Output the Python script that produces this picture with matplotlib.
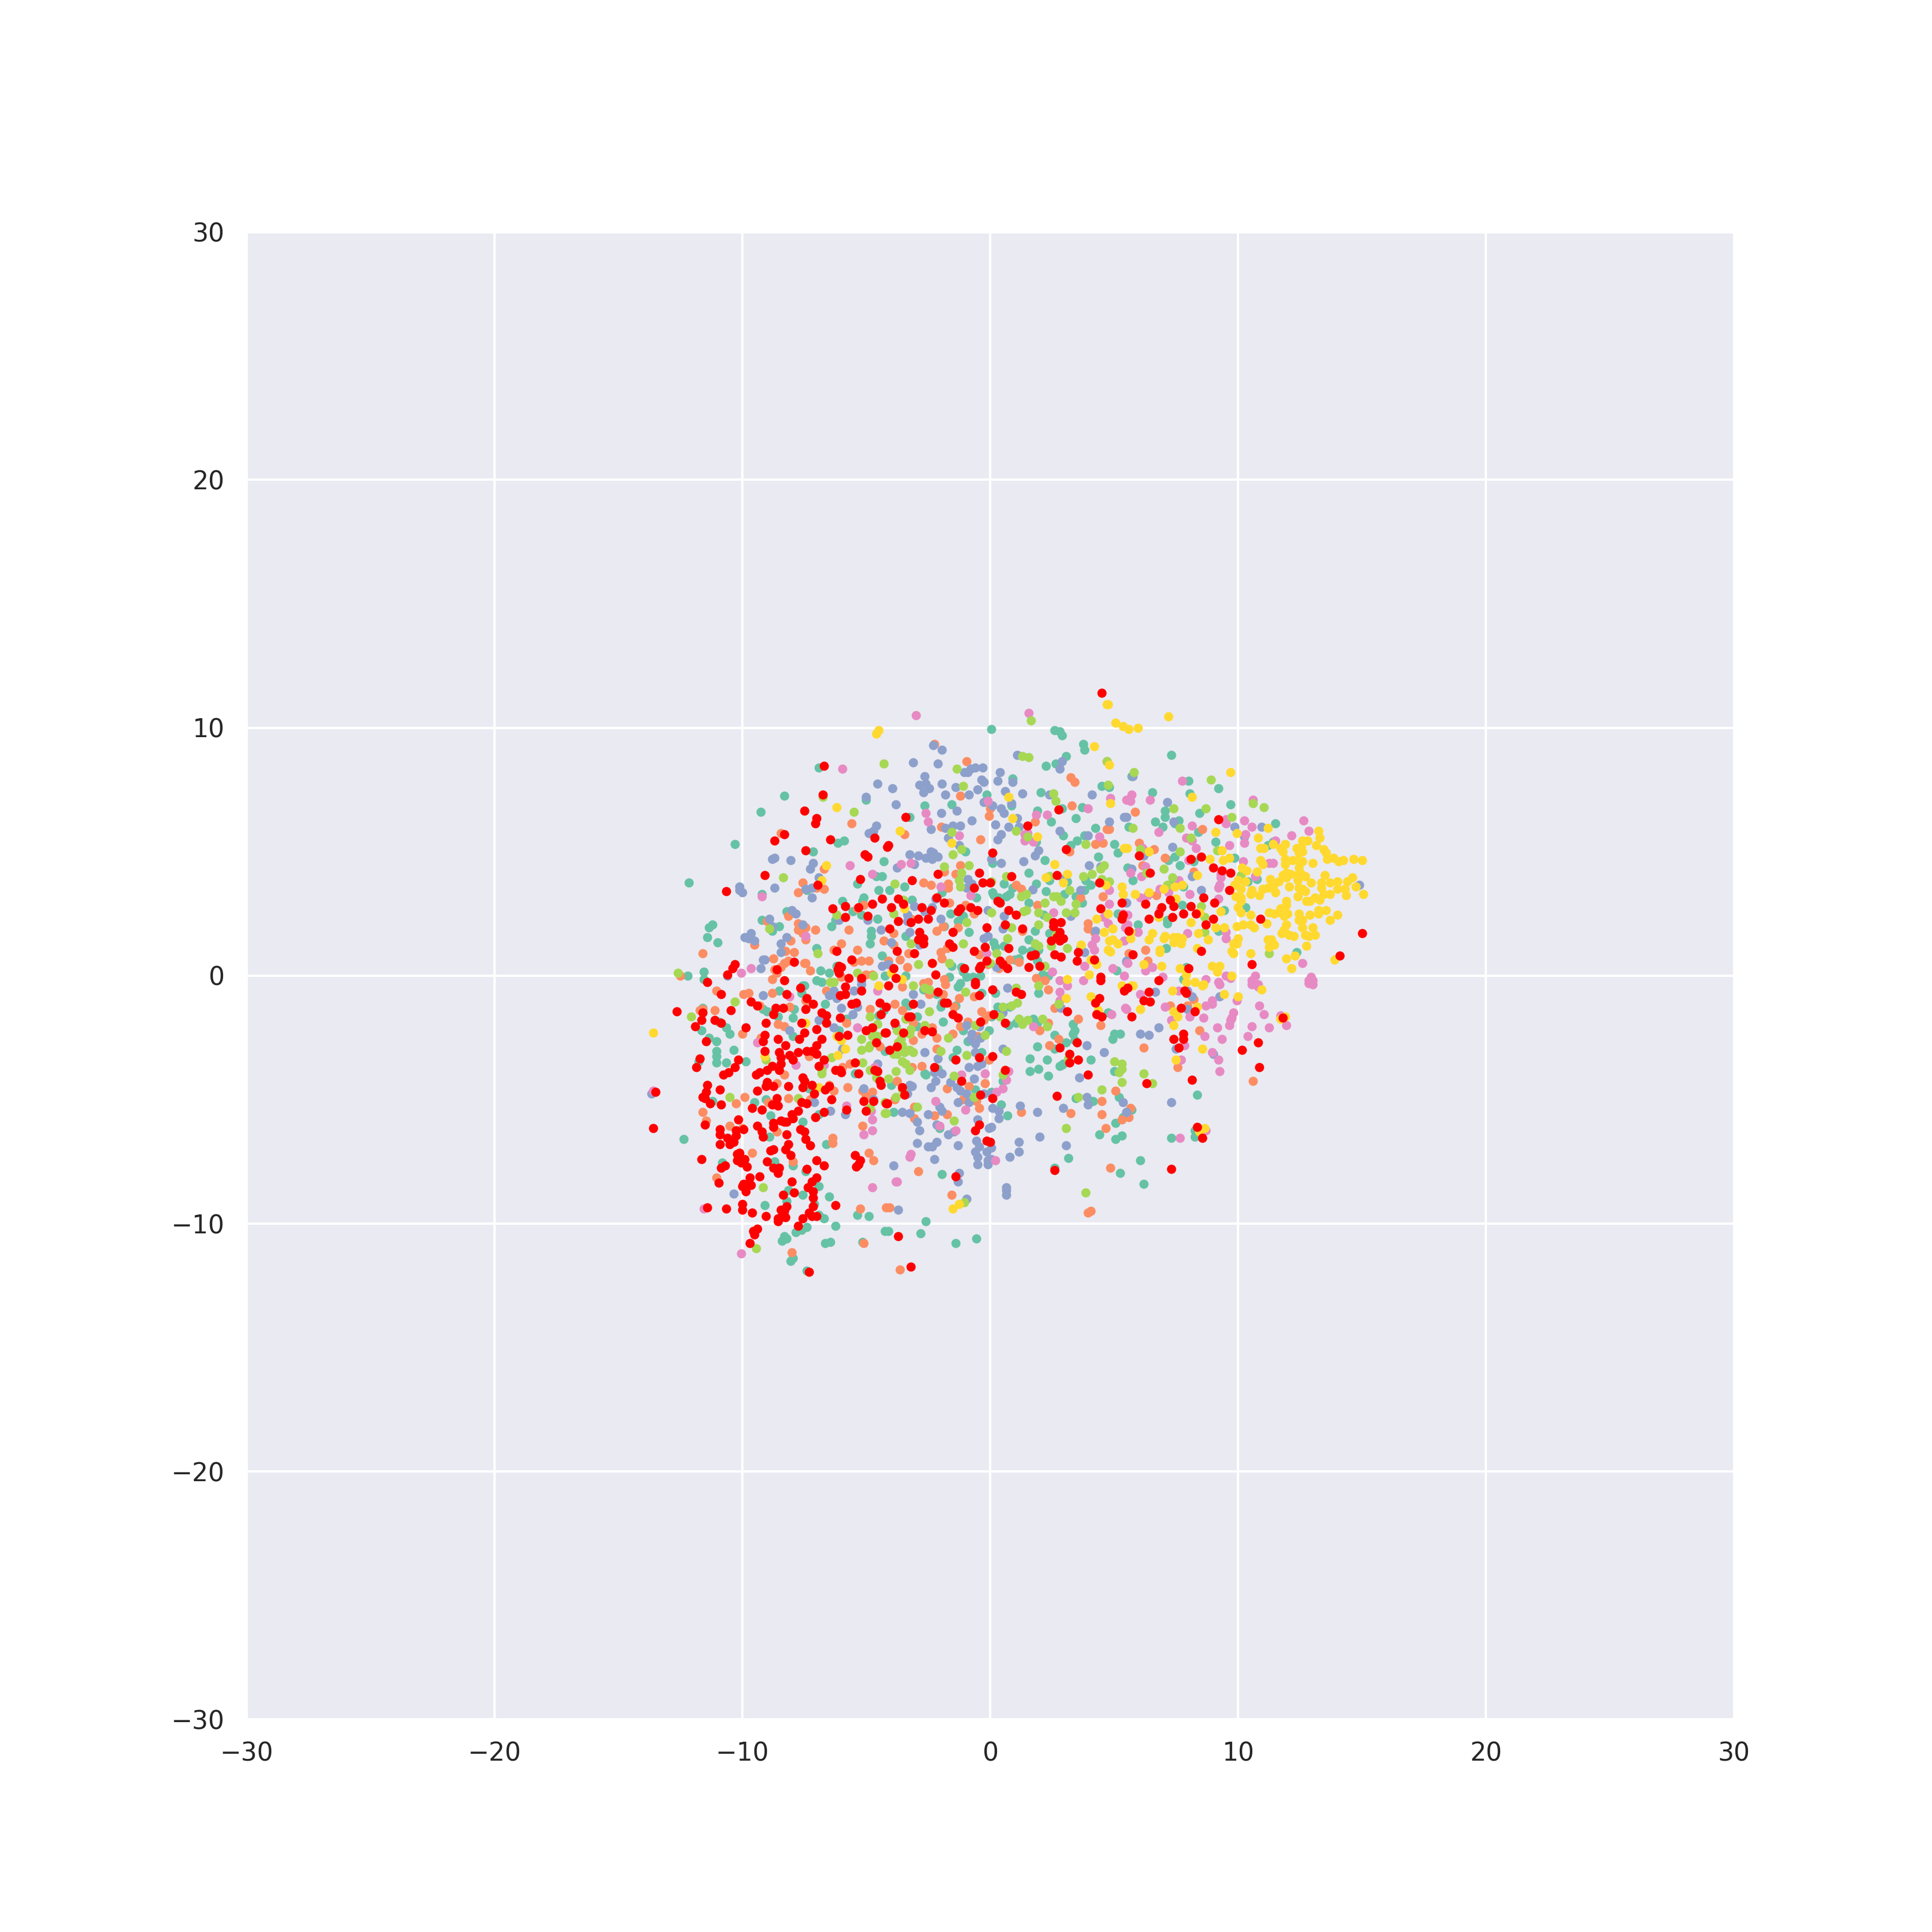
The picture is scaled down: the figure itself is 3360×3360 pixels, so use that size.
import matplotlib
matplotlib.use('Agg')
import matplotlib.pyplot as plt
import seaborn as sns

ticks = [-30, -20, -10, 0, 10, 20, 30]

teal = [
(-6.9,8.4),(-8.3,7.25),(-9.25,6.6),(-5.0,7.1),(-10.3,5.3),(-6.15,5.35),(-5.9,5.45),(-7.15,5.0),(-4.3,4.6),(-12.15,3.75),(-4.6,4.0),(-4.35,4.0),(-5.35,3.7),(-4.5,3.45),(-7.4,3.45),(-9.2,3.3),(-5.1,3.15),(-5.95,3.0),(-5.15,3.0),(-5.55,2.6),(-5.2,2.45),(-8.2,2.6),(-6.25,2.25),(-4.55,2.3),(-6.4,2.0),(-9.2,2.25),(-8.5,2.0),(-8.8,1.8),(-11.2,2.05),(-11.35,1.95),(-11.4,1.55),(-11.0,1.35),(-4.8,1.8),(-4.8,1.6),(-4.85,1.3),(-7.0,1.1),(-4.35,0.8),(-11.55,0.15),(-12.2,0),(-11.55,-0.15),(-6.85,0.2),(-6.5,0.1),(-7.0,-0.2),(-6.8,-0.25),(-4.25,0),(-7.55,-0.4),(-6.2,0.4),
(-11.6,-1.3),(-11.65,-2.2),(-11.35,-2.5),(-11.05,-2.65),(-10.65,-2.1),(-10.5,-2.35),(-10.95,-1.85),(-11.05,-3.05),(-11.05,-3.25),(-11.05,-3.5),(-10.65,-3.5),(-10.35,-3.0),(-9.85,-3.45),(-11.75,-3.45),(-8.5,-0.6),(-7.6,-0.7),(-7.5,-0.4),(-9.15,-1.35),(-9.0,-1.45),(-7.9,-1.35),(-7.95,-1.7),(-8.55,-1.65),(-7.95,-2.45),(-6.65,-1.15),(-5.8,-1.75),(-6.1,-2.2),(-4.3,-1.4),(-4.5,-1.6),(-4.25,-3.05),(-7.3,-4.55),(-9.5,-5.1),(-9.05,-5.0),(-11.2,-5.05),(-8.85,-5.65),(-6.9,-5.6),(-7.55,-5.9),(-8.9,-6.5),(-12.35,-6.6),(-6.6,-6.8),(-10.8,-7.55),(-8.7,-7.5),(-7.95,-7.65),(-7.45,-7.9),(-6.9,-8.5),(-8.15,-8.65),(-7.55,-8.85),(-6.5,-8.9),(-8.2,-9.1),(-9.1,-9.25),(-7.1,-9.2),(-6.9,-9.65),(-6.7,-9.8),(-5.35,-9.65),(-4.9,-9.7),(-6.25,-10.1),(-7.4,-10.15),(-7.6,-10.25),(-7.85,-10.35),(-4.25,-10.3),(-8.3,-10.5),(-8.2,-10.6),(-8.4,-10.7),(-6.65,-10.8),(-6.45,-10.75),(-5.15,-10.75),(-7.95,-11.4),(-8.05,-11.5),(-7.4,-11.9),(-5.45,-3.95),
(0.05,9.95),(2.6,9.9),(2.8,9.85),(2.9,9.7),(3.75,9.35),(3.8,9.1),(3.05,8.85),(2.65,8.55),(2.25,8.45),(4.5,7.65),(4.8,7.6),(0.9,7.95),(2.05,7.4),(-0.15,7.3),(-2.65,6.85),(-1.55,6.9),(0.85,6.85),(3.7,6.8),(2.9,6.75),(-3.25,6.4),(1.9,6.65),(3.45,6.35),(2.45,6.2),(4.25,5.95),(2.95,5.65),(3.8,5.65),(3.5,5.45),(3.25,5.25),(5.0,5.3),(1.85,5.4),(-1.0,5.0),(4.35,4.8),(5.15,4.95),(0.1,4.55),(2.2,4.65),(1.55,4.15),(-3.45,3.6),(-4.05,3.45),(0.55,3.7),(0.1,3.35),(0.15,3.25),(0.35,3.15),(0.65,3.2),(0.8,3.3),(0.9,3.55),(1.85,3.7),(2.25,3.4),(2.4,3.85),(3.1,3.8),(3.85,3.85),(3.8,3.45),(4.05,3.65),(3.45,3.2),(3.0,3.3),(3.7,2.95),(-3.15,3.05),(-1.95,3.35),(-0.55,3.15),(1.55,2.95),(-1.6,2.5),(-1.1,2.4),(-1.3,2.2),(2.15,2.45),(5.15,2.5),(-1.85,2.0),(1.8,1.8),(-0.85,1.75),(-3.4,1.6),(2.4,1.7),(1.55,1.45),(0.15,1.35),(0.2,1.15),(0.55,1.2),(1.3,1.05),(1.65,1.0),(1.95,1.05),(3.65,1.1),(1.9,0.6),(1.15,0.7),(1.0,0.65),(-1.55,0.4),(-1.15,0.35),(2.1,0.05),(2.35,0.0),(-3.4,0.0),(-1.65,-0.05),(-1.1,0.15),(-0.95,-0.05),(-0.7,-0.05),(-0.4,0.0),(5.1,0.2),(-1.2,-0.3),
(-1.3,-0.45),(-2.7,-0.55),(-2.15,-0.75),(0.2,-0.7),(-0.35,-0.7),(1.95,-0.7),(-3.4,-1.1),(-3.3,-1.2),(-1.95,-1.1),(-2.0,-1.25),(-1.4,-1.2),(-2.95,-1.65),(-1.9,-1.85),(-2.95,-2.05),(0.3,-1.25),(0.8,-1.25),(0.05,-1.65),(0.75,-2.0),(1.05,-1.9),(1.15,-1.75),(1.75,-1.75),(1.9,-1.9),(-1.1,-2.2),(-0.05,-2.2),(-0.9,-2.65),(2.6,-2.4),(3.35,-1.95),(3.4,-2.2),(3.35,-2.35),(3.4,-2.6),(3.05,-2.7),(2.6,-2.95),(1.9,-2.85),(4.75,-1.5),(-1.35,-3.0),(-0.35,-3.1),(-1.5,-3.3),(-0.05,-3.4),(1.6,-3.35),(2.3,-3.4),(4.05,-3.4),(2.9,-3.6),(2.8,-3.65),(2.95,-3.55),(1.95,-3.75),(1.6,-3.85),(2.35,-4.05),(-2.1,-3.75),(-2.65,-3.95),(-2.6,-4.0),(-4.0,-4.4),(-0.6,-4.6),(0.5,-4.25),(0.05,-4.7),(3.45,-4.95),(4.15,-5.05),(5.2,-4.9),(0.45,-5.2),(-3.9,-5.5),(0.7,-5.65),(5.35,-5.7),(5.05,-5.95),(-2.05,-6.15),(4.4,-6.4),(5.3,-6.45),(5.05,-6.6),(5.0,-3.85),(3.15,-7.35),(2.6,-7.75),(5.25,-7.95),(-1.95,-8.0),(-2.6,-9.9),(-4.1,-10.3),(-2.8,-10.4),(-0.55,-10.6),(-1.4,-10.8),(4.95,-2.55),(5.0,-2.35),(5.25,-2.35),
(7.3,8.9),(8.0,7.85),(9.2,7.55),(8.05,7.35),(6.55,7.4),(9.7,6.9),(5.7,8.05),(7.05,6.65),(7.05,6.4),(8.45,6.55),(6.65,6.2),(6.95,6.0),(7.45,6.15),(7.6,6.25),(11.5,6.15),(5.6,6.0),(8.4,5.8),(9.1,5.4),(11.2,5.25),(11.4,5.4),(7.2,4.65),(7.45,4.8),(8.2,4.6),(7.65,4.45),(9.85,4.75),(5.55,4.35),(5.75,3.85),(10.75,3.9),(10.4,3.8),(7.35,3.75),(7.8,3.6),(9.45,2.65),(7.75,2.85),(10.3,2.75),(5.95,2.05),(7.15,2.25),(7.15,2.1),(9.2,1.8),(7.1,1.1),(12.35,0.95),(7.9,0.35),(7.8,-0.15),
(8.35,-4.8),(5.7,-5.4),(8.25,-6.25),(8.25,-6.5),(7.3,-6.55),(6.05,-7.45),(6.2,-8.4),
]

orange = [
(-8.45,5.75),(-5.6,6.15),(-6.7,4.3),(-7.55,3.75),(-7.75,3.35),(-7.0,3.55),(-6.7,3.5),(-5.1,2.85),(-5.35,2.7),(-8.15,2.4),(-9.0,2.2),(-7.75,2.1),(-7.75,1.85),(-7.45,1.95),(-7.55,1.7),(-7.05,1.85),(-5.7,1.85),(-8.05,1.4),(-7.45,1.45),(-9.5,1.25),(-4.3,1.4),(-6.0,1.3),(-6.3,1.05),(-5.35,1.05),(-8.25,1.0),(-7.9,0.95),(-11.6,0.9),(-8.75,0.7),(-8.15,0.6),(-8.3,0.5),(-8.45,0.35),(-8.7,0.25),(-7.5,0.5),(-7.45,0.5),(-5.5,0.55),(-5.2,0.6),(-4.9,0.6),(-7.25,0.2),(-12.5,0),(-8.6,0.1),(-8.8,-0.15),(-6.0,-0.05),(-5.0,0.05),(-4.75,0.05),
(-11.05,-0.6),(-9.95,-0.75),(-9.75,-0.7),(-8.8,-0.7),(-6.6,-0.6),(-7.45,-1.0),(-9.3,-1.2),(-8.1,-1.25),(-11.7,-1.4),(-11.6,-1.35),(-11.1,-1.4),(-8.55,-1.95),(-8.3,-2.05),(-10.0,-2.35),(-4.85,-1.35),(-5.8,-1.9),(-9.25,-2.5),(-4.45,-2.85),(-7.3,-3.25),(-5.65,-3.55),(-5.95,-3.7),(-8.3,-4.0),(-8.6,-4.35),(-6.5,-4.4),(-6.3,-4.65),(-5.75,-4.5),(-5.15,-4.65),(-4.75,-4.7),(-5.0,-4.85),(-9.9,-4.9),(-10.25,-5.15),(-8.95,-5.1),(-8.15,-4.95),(-7.25,-5.0),(-11.6,-5.5),(-11.45,-5.85),(-10.5,-6.05),(-10.0,-6.15),(-8.6,-6.3),(-5.15,-6.05),(-6.35,-6.55),(-6.35,-6.75),(-9.6,-7.15),(-4.9,-7.15),(-4.7,-7.45),(-7.95,-7.5),(-11.05,-8.15),(-5.25,-9.4),(-5.1,-10.8),(-4.2,-9.35),(-8.0,-11.15),
(-2.25,9.35),(-0.95,8.65),(4.7,8.65),(3.25,8.0),(3.4,7.8),(-1.2,7.25),(3.3,6.85),(0.0,6.75),(-0.05,6.45),(1.8,6.2),(-1.98,6.0),(4.7,5.9),(4.8,5.9),(-3.45,5.7),(-0.4,5.5),(4.25,5.3),(4.55,5.35),(3.2,5.0),(-1.2,4.45),(-1.85,4.2),(-1.4,4.1),(-2.7,3.75),(-2.4,3.65),(-1.7,3.7),(-1.7,3.55),(1.05,3.65),(1.25,3.5),(3.65,3.15),(4.55,3.2),(-1.65,2.95),(-1.0,2.85),(1.9,2.85),(-0.65,2.5),(-3.2,2.3),(3.95,2.1),(-1.9,2.0),(-2.15,1.8),(-1.3,1.95),(3.95,1.9),(4.2,1.75),(-3.9,1.7),(1.3,1.8),(-3.9,1.25),(-1.75,1.1),(-3.3,0.9),(-2.0,0.95),(-1.95,0.7),(-0.45,0.85),(0.8,0.65),(-3.65,0.65),(-4.1,0.6),(-3.35,0.35),(1.15,0.55),(0.35,0.3),(-0.1,0.45),(-1.85,-0.15),(1.85,-0.1),(2.2,-0.2),(-2.5,-0.25),(-2.7,-0.3),
(-3.55,-0.45),(-2.45,-0.75),(-1.9,-0.75),(-1.8,-0.35),(-1.25,-0.9),(-0.65,-0.85),(2.35,-0.55),(-3.85,-1.15),(-3.55,-1.4),(-1.45,-1.25),(2.6,-1.3),(-0.35,-1.45),(-0.05,-1.6),(-0.25,-1.8),(-3.1,-1.9),(-0.9,-1.85),(3.55,-1.75),(2.35,-1.9),(4.45,-2.0),(-1.2,-2.05),(-2.35,-2.1),(-1.5,-2.35),(-2.75,-2.35),(2.0,-2.2),(-2.15,-2.5),(-3.1,-2.6),(-0.5,-2.45),(2.75,-2.55),(2.4,-2.8),(-2.15,-2.95),(-0.05,-3.4),(-2.75,-3.65),(-3.15,-3.7),(-3.75,-4.25),(-1.75,-4.55),(-0.85,-4.45),(-0.2,-4.35),(5.05,-4.65),(-3.85,-5.0),(-1.1,-5.0),(4.5,-5.05),(-0.55,-5.05),(-3.05,-5.3),(-0.45,-5.35),(1.25,-5.5),(3.25,-5.55),(-2.25,-5.65),(-1.75,-5.6),(-3.05,-5.75),(4.5,-5.6),(5.3,-5.8),(4.65,-6.15),(-2.9,-7.9),(4.85,-7.75),(-1.55,-8.85),(-4.05,-9.35),(3.95,-9.55),(4.05,-9.5),(-3.65,-11.85),
(5.85,6.6),(8.55,5.9),(6.0,5.35),(6.6,5.1),(7.05,4.75),(6.15,4.45),(8.2,4.2),(6.7,3.25),(6.25,1.05),(6.35,0.6),(5.6,0.9),
(8.2,-0.95),(7.25,-1.2),(7.95,-1.2),(8.45,-2.2),(6.2,-2.9),(7.55,-3.7),(10.6,-4.25),(5.65,-5.35),(5.6,-5.7),
]

blue = [
(-4.55,7.75),(-5.0,7.2),(-4.6,6.05),(-4.7,5.85),(-4.9,5.75),(-8.7,4.75),(-8.8,4.7),(-8.05,4.65),(-7.15,4.55),(-7.25,4.3),(-6.9,3.95),(-10.1,3.6),(-10.1,3.45),(-10.0,3.35),(-8.7,3.55),(-7.45,3.5),(-7.2,3.55),(-7.2,3.15),(-8.0,2.65),(-7.85,2.5),(-8.9,2.3),(-8.8,2.0),(-7.55,2.05),(-4.95,2.25),(-6.1,2.25),(-4.4,1.85),(-9.65,1.7),(-9.9,1.55),(-9.75,1.5),(-9.5,1.4),(-8.2,1.55),(-8.45,1.3),(-8.45,0.95),(-9.15,0.65),(-9.1,0.65),(-9.25,0.3),(-4.35,0.4),(-10.6,0),(-5.2,-0.2),
(-9.15,-0.8),(-13.65,-4.75),(-6.3,-0.6),(-6.5,-0.8),(-6.2,-0.9),(-5.5,-0.6),(-6.0,-1.3),(-5.35,-1.25),(-5.55,-1.55),(-6.9,-1.8),(-6.3,-2.1),(-8.1,-2.2),(-5.95,-2.95),(-4.55,-3.55),(-5.1,-4.55),(-4.7,-5.0),(-7.1,-5.1),(-6.45,-5.45),(-5.85,-5.6),(-10.35,-8.8),(-5.2,-0.35),
(-2.3,9.3),(-1.95,9.1),(-3.1,8.6),(-2.1,8.55),(-0.3,8.4),(-0.6,8.4),(-0.8,8.35),(-0.9,8.2),(-1.05,8.2),(1.1,8.9),(2.9,8.65),(2.8,8.35),(0.4,8.2),(-2.65,8.05),(0.3,7.85),(-0.35,7.9),(-0.25,7.8),(0.9,7.8),(-2.85,7.7),(-2.6,7.75),(-1.95,7.75),(-3.95,7.55),(-2.45,7.55),(-2.7,7.4),(-1.4,7.6),(-0.5,7.5),(0.6,7.45),(-1.8,7.3),(-0.85,7.3),(1.3,7.35),(2.4,7.3),(4.1,7.3),(-0.25,7.0),(0.1,6.85),(0.85,6.95),(-3.8,6.9),(0.45,6.75),(0.55,6.55),(-1.35,6.65),(-1.98,6.55),(1.1,6.35),(-0.75,6.25),(5.4,6.4),(4.8,6.2),(0.2,6.1),(-1.2,6.05),(-1.5,6.05),(-1.8,5.95),(0.75,6.0),(-2.4,5.9),(1.15,6.0),(2.8,5.85),(3.95,5.65),(0.45,5.7),(0.3,5.5),(-1.7,5.55),(-1.25,5.25),(1.95,5.05),(1.8,4.85),(-3.25,4.9),(-2.9,4.85),(-2.4,5.0),(-2.3,4.95),(-2.1,4.8),(-2.6,4.75),(-2.35,4.7),(0.05,4.7),(0.45,4.55),(1.35,4.6),(-3.05,4.5),(-3.75,4.35),(4.0,4.45),(4.45,4.4),(-0.9,3.9),(-0.75,3.7),(-0.95,3.55),(2.4,4.0),(2.95,3.9),(1.72,3.48),(3.65,3.45),(-2.2,3.1),(-3.05,2.8),(-2.35,2.75),(-2.65,2.6),(-0.1,2.65),(-3.35,2.45),(-3.35,2.2),(-2.0,2.3),(3.25,2.4),(0.55,2.4),(0.5,1.9),(-3.25,1.75),(-0.1,1.6),(-0.25,1.5),(-4.0,1.35),(-2.85,1.25),(3.8,0.95),(4.25,1.8),(-4.1,0.45),(0.25,0.35),(5.5,0.6),
(-3.1,-0.75),(0.7,-0.5),(-2.8,-1.15),(0.5,-1.5),(2.85,-1.3),(-3.8,-2.05),(-0.95,-2.0),(-0.45,-2.05),(-0.75,-2.35),(-0.8,-2.55),(-0.4,-2.5),(-0.6,-2.75),(0.5,-2.95),(3.9,-2.8),(-2.65,-3.1),(-0.6,-3.1),(-2.1,-3.35),(4.6,-3.1),(-0.85,-3.7),(-0.5,-3.65),(-0.35,-3.55),(-2.25,-3.9),(-1.95,-3.95),(-0.65,-4.15),(3.6,-4.1),(-2.2,-4.25),(-1.6,-4.3),(-3.25,-4.4),(-3.15,-4.45),(-2.4,-4.5),(-1.35,-4.5),(-1.2,-4.65),(-0.95,-4.75),(-0.25,-4.75),(0.05,-4.75),(-3.35,-4.75),(-0.85,-5.1),(-1.3,-5.1),(3.9,-4.9),(5.35,-5.1),(3.95,-5.2),(2.95,-5.35),(1.2,-5.25),(0.1,-5.35),(-2.05,-5.3),(-1.95,-5.45),(-3.55,-5.5),(-3.25,-5.55),(1.9,-5.5),(0.35,-5.45),(0.35,-5.75),(-2.5,-5.6),(5.5,-5.5),(-0.5,-5.8),(-2.95,-5.9),(-2.15,-6.0),(-2.85,-6.25),(-0.05,-6.15),(0.05,-6.1),(-1.45,-6.3),(-1.7,-6.4),(2.0,-6.5),(-0.55,-6.65),(-2.15,-6.7),(-2.95,-6.75),(1.15,-6.7),(-0.45,-6.9),(-2.5,-6.9),(-2.35,-6.9),(-1.3,-6.85),(3.05,-6.85),(0.05,-6.95),(-0.15,-7.1),(-0.6,-7.1),(1.15,-7.1),(-0.5,-7.3),(0.8,-7.3),(-2.25,-7.4),(-0.1,-7.45),(0.05,-7.4),(-0.5,-7.6),(-3.9,-7.65),(-0.1,-7.6),(-1.25,-7.95),(-1.3,-8.3),(0.65,-8.55),(0.65,-8.65),(0.65,-8.85),(-0.95,-9.0),(-3.7,-9.45),
(5.75,8.05),(7.15,7.0),(5.5,6.4),(7.4,6.2),(9.85,6.0),(10.95,6.0),(10.25,5.6),(7.35,5.2),(6.2,4.85),(5.7,4.3),(8.15,4.0),(8.5,3.45),(14.9,3.65),(5.5,2.95),(5.5,0.55),
(6.65,-0.65),(8.15,-0.85),(9.25,-0.85),(7.95,-1.35),(6.8,-2.1),(6.05,-2.35),(6.4,-2.4),(7.5,-2.95),(9.0,-3.15),(7.3,-5.1),(5.5,-5.5),(7.95,-0.6),
]

pink = [
(-5.95,8.35),(-5.65,4.45),(-4.75,4.1),(-9.2,3.2),(-7.45,1.6),(-9.65,0.3),(-10.05,0.1),
(-8.1,-0.85),(-4.55,-0.6),(-5.35,-2.1),(-9.4,-2.7),(-7.85,-3.6),(-6.7,-3.6),(-4.65,-3.7),(-13.6,-4.65),(-5.8,-5.25),(-4.8,-5.45),(-4.75,-5.8),(-4.75,-6.25),(-5.1,-6.4),(-4.75,-8.55),(-11.55,-9.4),(-10.05,-11.2),
(-3.0,10.5),(1.55,10.6),(4.85,7.15),(3.95,6.75),(-0.1,7.05),(1.85,6.5),(2.3,6.5),(-2.6,6.55),(-2.5,6.2),(1.5,5.75),(1.4,5.7),(1.4,5.45),(1.75,5.4),(4.4,5.6),(-1.25,5.65),(-3.6,4.5),(-3.2,4.55),(-2.0,3.6),(-0.8,3.25),(2.55,2.55),(4.8,3.45),(4.8,2.9),(4.6,2.35),(4.75,2.1),(4.25,1.5),(4.1,1.25),(4.2,1.05),(-0.15,0.9),(3.8,0.4),(4.95,0.3),(2.5,0.15),(2.8,-0.2),(3.75,-0.2),(5.45,1.95),(5.4,1.4),(5.35,2.5),(5.5,7.1),(5.4,0.0),
(2.8,-0.65),(3.1,-0.4),(2.8,-1.0),(4.9,-1.55),(5.45,-1.3),(1.75,-2.05),(-1.15,-4.0),(-0.2,-3.95),(0.75,-3.85),(0.65,-4.2),(0.5,-4.55),(0.25,-4.7),(-2.2,-5.05),(-1.0,-5.4),(-2.05,-6.05),(-1.4,-6.25),(-3.2,-7.2),(-3.25,-7.3),(0.2,-7.45),(-3.75,-8.3),(-3.8,-8.3),
(7.75,7.85),(5.7,7.3),(5.65,7.05),(6.45,7.1),(10.6,7.1),(12.65,6.25),(9.5,6.3),(9.5,6.15),(8.15,6.05),(10.25,6.25),(10.55,6.0),(6.8,5.8),(12.85,5.85),(10.3,5.7),(12.15,5.65),(7.9,5.55),(8.15,5.45),(10.25,5.35),(11.5,5.45),(9.65,5.25),(8.3,5.15),(6.15,5.15),(10.2,4.6),(8.0,4.65),(11.25,4.55),(11.4,4.55),(6.25,4.4),(5.65,4.15),(6.1,4.0),(10.7,4.0),(9.3,4.1),(9.3,3.95),(7.6,3.85),(9.25,3.65),(9.2,3.55),(6.85,3.5),(7.2,3.35),(6.05,3.15),(6.35,3.25),(8.05,3.3),(9.2,3.1),(6.85,2.65),(8.45,2.55),(5.55,2.45),(5.55,2.05),(5.95,1.75),(7.95,1.7),(9.5,1.75),(9.5,1.5),(9.9,1.35),(12.6,0.5),(6.55,0.35),(6.25,0.2),(12.95,-0.05),(12.85,-0.2),(13.0,-0.2),(9.5,0.0),(9.7,-0.1),(10.7,0.0),(10.55,-0.2),(8.7,-0.15),(9.2,-0.25),(6.95,-0.05),(5.55,0.5),(10.8,-0.35),
(6.05,-0.75),(7.6,-0.6),(7.05,-1.25),(5.5,-1.35),(8.7,-1.2),(8.95,-1.0),(8.95,-1.15),(9.8,-1.5),(9.75,-1.7),(9.65,-2.0),(9.7,-1.8),(9.95,-1.0),(10.85,-1.2),(11.05,-1.55),(8.05,-1.65),(8.6,-1.7),(7.3,-1.8),(11.7,-1.6),(11.95,-2.0),(9.15,-2.1),(10.55,-2.05),(11.25,-2.1),(8.65,-2.45),(9.35,-2.55),(10.4,-2.45),(7.85,-2.8),(8.95,-3.1),(7.7,-3.4),(9.2,-3.4),(9.25,-3.85),(7.65,-6.55),(8.7,-6.25),(9.25,-0.35),(10.55,-0.35),(10.8,-0.45),(12.85,-0.3),(13.0,-0.35),
]

lime = [
(-4.3,8.55),(-6.75,7.2),(-5.5,6.6),(-8.35,3.95),(-6.2,2.45),(-8.9,1.9),(-6.95,0.9),(-12.6,0.1),(-5.35,0.1),(-4.7,0),(-6.45,-0.25),(-6.3,-0.25),
(-10.3,-1.05),(-12.05,-1.65),(-4.85,-1.65),(-4.55,-1.95),(-4.75,-2.15),(-4.75,-2.45),(-4.55,-2.45),(-5.2,-2.55),(-4.85,-2.8),(-4.9,-2.9),(-5.2,-3.0),(-9.05,-3.4),(-6.4,-3.3),(-5.15,-3.5),(-6.8,-3.8),(-6.8,-3.95),(-4.85,-3.8),(-4.6,-4.1),(-7.75,-4.95),(-10.5,-4.9),(-4.85,-5.35),(-4.25,-5.1),(-4.25,-5.55),(-9.15,-8.55),(-9.45,-11.0),
(1.65,10.3),(1.3,8.85),(1.55,8.8),(4.7,8.65),(-1.35,8.35),(-1.1,7.65),(4.75,7.7),(2.55,7.35),(2.65,7.05),(1.05,5.85),(1.5,5.6),(-1.55,5.8),(3.85,5.3),(-1.15,5.1),(-1.5,4.9),(-1.85,4.4),(-0.85,4.45),(4.6,4.45),(4.45,4.3),(-1.15,4.15),(4.1,4.1),(0.65,4.0),(2.4,4.0),(3.75,4.0),(4.5,3.9),(0.05,3.8),(-3.85,3.7),(-1.25,3.85),(-1.2,3.6),(4.8,3.8),(3.2,3.45),(1.45,3.3),(1.25,3.2),(2.55,3.2),(2.7,3.2),(2.85,3.0),(2.2,2.95),(3.45,2.9),(0.05,2.55),(1.45,2.65),(1.35,2.6),(1.95,2.55),(-3.9,2.5),(2.3,2.35),(3.05,2.55),(3.4,2.55),(-0.95,2.15),(1.95,2.05),(0.85,1.95),(-3.2,1.3),(0.7,1.5),(-1.1,1.3),(1.8,1.3),(1.95,1.2),(2.45,1.2),(3.1,1.1),(0.25,0.9),(0.0,0.5),(-2.9,0.45),(-1.65,0.5),(2.2,0.4),(2.65,1.65),(-3.5,3.05),
(-3.1,-0.4),(-2.45,-0.55),(-2.65,-0.5),(-1.0,-0.65),(1.95,-0.4),(1.05,-0.5),(-2.45,-1.45),(0.5,-1.25),(1.1,-1.1),(0.85,-1.2),(2.75,-1.15),(-3.4,-1.75),(0.4,-1.65),(1.15,-1.75),(1.5,-1.8),(1.3,-1.95),(2.1,-1.75),(2.3,-2.05),(-0.6,-2.0),(-2.65,-2.0),(-3.75,-2.2),(-3.2,-2.15),(-3.25,-2.35),(-0.2,-2.4),(-1.7,-2.5),(-3.6,-2.55),(-3.7,-2.7),(-3.55,-2.8),(-3.45,-3.1),(-3.25,-3.0),(-3.1,-3.1),(-3.9,-3.15),(-3.75,-3.15),(-2.0,-3.05),(-0.95,-3.2),(0.65,-3.05),(3.15,-3.35),(-3.55,-3.45),(-3.4,-3.55),(-3.25,-3.8),(-3.8,-3.85),(-4.1,-4.15),(-1.45,-4.05),(0.5,-4.0),(-3.55,-4.6),(4.5,-4.6),(-3.8,-4.9),(-0.65,-4.9),(3.55,-4.9),(-2.95,-5.3),(-4.2,-5.55),(-1.45,-5.85),(3.05,-6.15),(3.85,-8.75),(-1.05,-9.15),(5.0,-3.45),(5.3,-3.55),(5.3,-3.75),(5.2,-3.9),(5.3,-4.3),
(5.8,8.2),(8.9,7.9),(7.4,6.75),(8.7,6.75),(9.75,6.4),(10.6,6.95),(11.05,6.8),(5.75,5.95),(7.65,5.95),(8.1,5.55),(9.15,5.05),(6.05,5.1),(7.65,5.0),(7.0,4.3),(6.3,4.15),(7.35,3.95),(10.1,4.05),(7.15,3.65),(8.5,2.8),(8.65,2.35),(8.65,1.75),(11.25,0.9),
(6.2,-3.95),(6.55,-4.35),
]

yellow = [
(-4.5,9.9),(-4.6,9.75),(-6.2,6.8),(-6.6,4.45),(-6.8,3.85),
(-13.6,-2.3),(-9.1,-3.25),(-7.45,-1.9),(-6.2,-2.45),(-6.0,-2.6),(-5.85,-2.95),(-6.15,-3.2),(-6.9,-4.5),(-4.5,-0.4),
(4.7,10.95),(4.75,10.95),(5.05,10.2),(5.35,10.05),(4.2,9.25),(4.8,8.5),(0.75,7.2),(4.85,6.95),(0.9,6.35),(-3.65,5.85),(1.9,5.6),(5.4,5.15),(-1.55,5.35),(2.6,4.5),(3.1,4.1),(2.25,3.95),(2.95,3.75),(4.65,3.65),(5.3,3.6),(5.35,3.3),(-3.45,2.7),(4.3,2.3),(4.75,2.5),(4.95,1.9),(4.6,1.75),(4.8,1.4),(4.95,1.45),(5.15,1.3),(4.75,1.05),(4.85,0.98),(3.67,1.25),(4.05,0.65),(4.3,0.45),(4.0,0.05),(3.1,-0.15),(-2.35,0.5),(-4.0,0.1),(-3.55,-0.15),
(-1.25,-9.2),(-1.5,-9.4),(4.05,-0.85),(3.05,-0.9),(4.35,-1.4),(5.3,-0.4),
(7.2,10.45),(5.6,9.95),(5.95,10.0),(9.7,8.2),(8.15,7.2),(9.95,5.75),(9.1,5.8),(11.2,5.95),(10.8,5.55),(13.25,5.85),(13.3,5.55),(13.15,5.25),(12.6,5.45),(12.8,5.45),(12.55,5.2),(12.35,5.15),(11.4,5.3),(10.9,5.15),(11.05,5.15),(11.9,5.3),(11.7,5.15),(11.8,5.0),(12.45,4.95),(12.6,5.0),(13.45,5.1),(13.55,4.95),(13.85,4.75),(13.6,4.7),(14.05,4.6),(14.25,4.65),(14.65,4.7),(15.0,4.65),(13.0,4.55),(11.9,4.7),(12.2,4.65),(12.6,4.6),(12.4,4.65),(11.9,4.5),(10.9,4.65),(11.0,4.5),(12.45,4.35),(8.85,4.7),(9.4,4.65),(9.65,4.75),(9.35,5.05),(6.4,5.0),(5.53,5.15),(10.15,4.35),(10.35,4.25),(10.75,4.2),(11.95,4.15),(11.8,4.05),(12.1,4.1),(12.35,4.05),(12.55,4.1),(12.7,4.0),(11.3,3.9),(11.65,3.8),(11.95,3.95),(12.4,3.85),(13.5,4.05),(12.95,3.75),(8.35,4.05),(10.0,3.85),(10.3,3.8),(9.85,3.65),(13.35,3.75),(13.35,3.55),(13.7,3.75),(14.0,3.8),(14.4,3.8),(14.6,3.95),(14.75,3.6),(12.05,3.6),(11.4,3.6),(11.2,3.55),(11.0,3.5),(10.55,3.45),(10.1,3.5),(12.45,3.55),(12.6,3.5),(14.0,3.5),(14.3,3.5),(7.45,3.6),(7.75,3.65),(7.0,3.5),(6.4,3.35),(5.85,3.3),(14.35,3.25),(15.05,3.3),(12.7,3.4),(11.5,3.35),(10.5,3.3),(10.85,3.25),(13.45,3.3),(13.7,3.3),(12.4,3.2),(9.9,3.2),(10.1,3.15),(10.1,3.0),(7.5,3.1),(13.1,3.15),(13.3,3.05),(12.75,3.0),(12.9,3.0),(11.95,3.0),(11.95,2.85),(10.0,2.75),(11.7,2.7),(10.1,2.55),(11.25,2.55),(11.45,2.5),(11.7,2.55),(12.0,2.5),(11.85,2.4),(12.45,2.5),(13.25,2.65),(13.55,2.65),(13.25,2.5),(12.9,2.45),(14.0,2.45),(10.5,2.45),(9.3,2.6),(8.45,2.55),(13.7,2.25),(12.45,2.25),(12.6,2.25),(6.8,2.35),(11.15,2.1),(11.95,2.05),(9.95,2.0),(10.2,2.05),(10.5,2.05),(10.65,1.95),(8.1,2.15),(9.1,1.95),(9.45,1.95),(12.6,1.95),(13.0,1.95),(11.85,1.85),(11.75,1.7),(12.05,1.65),(12.25,1.6),(12.7,1.65),(12.85,1.6),(13.1,1.65),(6.55,1.7),(7.05,1.6),(7.0,1.5),(7.4,1.55),(7.4,1.35),(7.55,1.55),(7.75,1.5),(7.7,1.3),(8.4,1.7),(5.65,1.75),(5.65,1.5),(6.4,1.45),(8.8,1.45),(10.0,1.5),(9.95,1.3),(9.8,1.3),(11.2,1.45),(11.35,1.45),(11.45,1.25),(11.25,1.15),(12.75,1.2),(8.35,1.1),(6.85,1.05),(6.85,0.95),(9.75,1.0),(9.8,0.9),(10.5,0.9),(12.3,0.8),(11.95,0.7),(13.9,0.65),(12.15,0.3),(6.9,0.4),(6.2,0.45),(8.95,0.4),(9.25,0.4),(9.15,0.15),(7.65,0.3),(7.9,0.05),(9.75,0.0),(7.9,-0.25),(8.25,-0.25),(8.6,-0.35),(5.75,-0.4),
(7.35,-0.6),(5.7,-0.4),(9.45,-0.75),(10.0,-0.85),(10.95,-0.55),(6.05,-1.35),(8.35,-1.25),(7.4,-1.45),(7.55,-1.65),(7.4,-2.0),(8.55,-2.95),(7.5,-3.4),(8.65,-6.15),(8.45,-6.3),(11.7,-1.75),(11.9,-1.65),(8.55,-0.4),
]

red = [
(-6.7,8.45),(-6.75,7.3),(-7.5,6.65),(-7.0,6.35),(-7.05,6.15),(-8.3,5.7),(-8.7,5.45),(-6.45,5.5),(-4.65,5.55),(-4.15,5.2),(-7.45,5.05),(-5.05,4.9),(-4.95,4.8),(-9.1,4.05),(-5.25,3.9),(-6.95,3.65),(-10.65,3.4),(-4.35,3.1),(-4.75,2.9),(-5.85,2.8),(-5.3,2.75),(-6.35,2.7),(-5.85,2.35),(-4.95,2.4),(-6.2,1.0),(-5.6,0.65),(-7.9,0.55),(-10.3,0.45),(-10.4,0.3),(-10.6,0.05),(-8.6,0.25),(-6.1,0.4),(-6.0,0.35),(-6.15,0.25),(-6.1,0.1),(-5.7,-0.1),(-5.2,-0.1),(-8.3,-0.2),(-11.4,-0.25),
(-12.65,-1.45),(-11.6,-1.5),(-11.65,-1.8),(-11.9,-2.05),(-11.45,-2.65),(-11.1,-1.8),(-10.85,-1.9),(-10.45,-1.4),(-10.85,-0.75),(-9.85,-2.1),(-9.65,-1.05),(-9.4,-1.2),(-9.05,-1.9),(-9.1,-2.4),(-9.15,-2.65),(-8.65,-1.3),(-8.35,-1.3),(-8.75,-1.55),(-8.2,-0.75),(-7.65,-0.5),(-7.4,-0.9),(-7.15,-1.15),(-7.45,-1.35),(-7.6,-1.9),(-8.55,-2.55),(-8.25,-2.8),(-7.5,-2.3),(-7.7,-2.55),(-7.0,-2.15),(-6.8,-2.55),(-6.8,-1.5),(-6.6,-1.6),(-6.6,-1.9),(-6.05,-1.7),(-6.05,-0.8),(-5.85,-0.75),(-5.85,-0.45),(-5.2,-0.6),(-5.6,-1.15),(-5.4,-1.1),(-4.45,-1.1),(-4.4,-1.55),(-5.0,-2.2),(-4.75,-2.1),(-4.25,-2.3),(-5.75,-2.4),(-6.1,-2.45),(-4.6,-2.7),(-7.0,-2.8),(-7.4,-3.05),(-7.2,-3.05),(-7.0,-3.15),(-9.1,-3.05),(-8.5,-3.1),(-8.45,-3.3),(-8.1,-3.2),(-7.95,-3.4),(-7.75,-3.1),(-6.7,-3.4),(-6.9,-3.65),(-8.45,-3.55),(-8.5,-3.8),(-8.8,-3.65),(-9.0,-3.8),(-9.3,-3.9),(-9.45,-4.0),(-11.7,-3.35),(-11.85,-3.7),(-10.15,-3.4),(-10.3,-3.7),(-10.55,-3.9),(-10.75,-4.0),(-5.45,-3.5),(-5.3,-3.95),(-6.25,-3.8),(-6.05,-3.8),(-6.0,-3.9),(-4.65,-3.8),(-4.55,-3.85),(-4.45,-4.25),(-4.4,-4.4),(-7.55,-4.1),(-7.5,-4.25),(-7.55,-4.5),(-7.2,-4.4),(-6.5,-4.45),(-6.65,-4.6),(-7.1,-4.75),(-6.4,-5.0),(-8.15,-4.45),(-9.0,-4.3),(-9.05,-4.45),(-8.75,-4.45),(-9.4,-4.65),(-11.4,-4.4),(-11.45,-4.7),(-10.9,-4.6),(-13.5,-4.7),(-11.6,-4.9),(-11.5,-4.95),(-11.3,-5.15),(-10.85,-5.2),(-9.6,-5.35),(-9.2,-5.4),(-8.6,-4.95),(-8.8,-5.2),(-8.55,-5.25),(-7.6,-5.1),(-7.4,-5.15),(-7.75,-5.45),(-5.1,-5.05),(-4.7,-5.05),(-4.2,-5.15),(-5.8,-5.4),(-5.0,-5.45),(-6.7,-5.5),(-7.05,-5.7),(-8.0,-5.6),(-7.95,-5.75),(-8.45,-5.85),(-8.3,-5.9),(-8.2,-5.9),(-8.75,-5.95),(-8.75,-6.1),(-10.15,-5.8),(-11.5,-6.0),(-9.4,-6.05),(-13.6,-6.15),(-10.9,-6.2),(-10.9,-6.4),(-9.95,-6.2),(-10.25,-6.25),(-10.25,-6.45),(-7.65,-6.2),(-7.5,-6.3),(-8.2,-6.4),(-9.2,-6.3),(-9.15,-6.5),(-10.6,-6.55),(-7.45,-6.6),(-7.25,-6.85),(-10.9,-6.8),(-10.35,-6.7),(-10.5,-6.8),(-8.15,-6.8),(-8.75,-7.0),(-8.85,-7.05),(-8.25,-7.0),(-8.05,-7.25),(-10.1,-7.15),(-10.2,-7.2),(-5.45,-7.25),(-5.25,-7.45),(-5.3,-7.6),(-5.4,-7.7),(-11.65,-7.4),(-9.9,-7.4),(-10.2,-7.45),(-10.05,-7.55),(-9.8,-7.7),(-10.7,-7.65),(-10.85,-7.75),(-9.0,-7.5),(-7.0,-7.45),(-6.7,-7.65),(-8.75,-7.75),(-8.5,-7.75),(-8.55,-7.95),(-7.4,-7.8),(-9.7,-8.15),(-9.3,-8.1),(-7.0,-8.15),(-7.2,-8.3),(-10.95,-8.35),(-8.0,-8.3),(-9.95,-8.4),(-9.8,-8.4),(-10.0,-8.5),(-9.65,-8.45),(-9.85,-8.7),(-7.35,-8.55),(-7.15,-8.7),(-7.9,-8.75),(-8.35,-8.85),(-7.15,-8.95),(-10.0,-9.2),(-10.0,-9.45),(-11.4,-9.35),(-10.65,-9.4),(-8.2,-9.3),(-8.45,-9.45),(-8.3,-9.5),(-7.15,-9.3),(-6.25,-9.25),(-9.6,-9.55),(-9.05,-9.7),(-7.3,-9.55),(-7.2,-9.7),(-7.0,-9.7),(-7.55,-9.8),(-8.25,-9.75),(-8.45,-9.75),(-8.55,-9.8),(-8.55,-9.9),(-7.75,-10.1),(-9.4,-10.2),(-9.55,-10.3),(-9.5,-10.45),(-9.7,-10.8),(-7.3,-11.95),
(4.5,11.4),(2.75,6.7),(-3.4,6.4),(1.5,6.05),(-4.1,5.25),(0.1,4.95),(3.05,5.1),(-2.1,4.1),(-0.45,4.15),(-3.15,3.85),(0.85,4.0),(2.7,4.05),(-0.3,3.75),(0.0,3.75),(-0.65,3.55),(4.4,3.75),(-2.15,3.15),(-1.85,2.95),(-3.7,3.1),(-3.5,2.9),(-4.0,2.75),(-2.75,2.75),(-2.4,2.65),(-0.8,2.75),(-1.2,2.7),(-1.3,2.6),(-0.5,2.65),(0.3,3.0),(0.4,2.95),(0.75,2.65),(1.05,2.45),(4.45,2.7),(5.3,2.95),(5.35,2.45),(5.3,2.3),(-2.9,2.3),(-2.5,2.3),(-3.7,2.2),(-3.2,2.15),(0.6,2.05),(-4.05,1.9),(-0.15,1.95),(1.3,1.9),(2.85,2.15),(2.55,2.15),(2.55,2.0),(-2.85,1.75),(-1.5,1.75),(2.8,1.75),(2.7,1.55),(2.95,1.5),(2.45,1.4),(2.8,1.4),(-2.9,1.45),(-2.7,1.5),(-2.7,1.3),(-1.65,1.3),(-1.5,1.15),(-3.75,1.0),(-3.05,0.9),(-0.65,1.0),(-0.2,1.15),(0.75,1.1),(3.55,0.95),(2.6,0.85),(2.85,0.75),(1.65,0.8),(1.8,0.85),(3.5,0.6),(4.2,0.65),(-0.15,0.6),(0.4,0.6),(0.5,0.45),(0.7,0.3),(1.55,0.35),(2.0,0.4),(-2.35,0.5),(-3.9,0.3),(-1.05,0.3),(-0.4,0.4),(-0.45,0.3),(-2.2,0.05),(-3.8,-0.1),(-0.6,-0.25),(4.45,-0.05),(4.45,-0.2),
(-4.1,-0.4),(-2.1,-0.65),(-0.45,-0.8),(0.1,-0.55),(1.05,-0.65),(1.25,-0.75),(-3.1,-1.15),(-4.2,-1.25),(-1.85,-1.1),(-1.75,-1.1),(-1.5,-1.55),(-1.3,-1.7),(-3.3,-1.65),(-3.2,-1.65),(0.15,-1.55),(-0.4,-1.85),(0.6,-1.9),(-3.85,-1.9),(-3.5,-2.3),(-4.2,-2.3),(-2.65,-2.2),(-2.35,-2.25),(-3.75,-2.85),(-4.05,-3.0),(-0.45,-3.3),(-1.4,-3.4),(0.1,-3.25),(-2.25,-3.7),(0.6,-3.8),(-3.55,-4.5),(-3.45,-4.8),(-1.15,-4.25),(-0.4,-4.8),(0.1,-4.95),(-4.15,-5.15),(-0.45,-6.0),(-0.6,-6.25),(-0.15,-6.65),(0.0,-6.7),(-1.4,-8.1),(2.6,-7.85),(2.7,-4.85),(3.1,-1.45),(2.8,-2.9),(3.5,-2.7),(3.2,-3.15),(3.55,-3.4),(3.2,-3.5),(3.95,-4.0),(4.4,-0.9),(4.25,-1.1),(4.3,-1.55),(4.5,-1.65),(5.4,-0.6),(-3.7,-10.5),(-3.2,-11.75),(-0.6,-0.35),
(9.2,6.3),(6.0,4.85),(8.1,4.7),(8.5,4.8),(9.0,4.35),(9.35,4.25),(9.7,4.15),(6.45,4.15),(9.65,3.45),(8.6,3.15),(9.05,2.95),(7.25,3.05),(7.4,2.8),(6.25,2.9),(6.9,2.75),(8.1,2.8),(6.8,2.5),(7.8,2.5),(8.3,2.5),(7.35,2.35),(6.4,2.3),(9.0,2.3),(10.9,2.3),(8.7,2.05),(5.6,1.8),(15.0,1.7),(8.5,1.0),(5.75,0.85),(14.1,0.8),(10.55,0.45),(8.0,0.3),(6.8,-0.2),
(6.4,-0.65),(5.55,-0.5),(7.85,-0.6),(7.9,-0.7),(6.2,-1.0),(6.45,-1.05),(7.7,-1.3),(5.7,-1.65),(8.25,-1.45),(7.8,-2.35),(7.8,-2.55),(7.4,-2.55),(7.6,-2.9),(10.8,-2.7),(10.15,-3.0),(11.8,-1.7),(10.85,-3.7),(8.15,-4.2),(6.3,-4.35),(8.35,-6.1),(8.55,-6.55),(7.3,-7.8),
]

series = [(teal, '#66c2a5'), (orange, '#fc8d62'), (blue, '#8da0cb'), (pink, '#e78ac3'),
          (lime, '#a6d854'), (yellow, '#ffd92f'), (red, '#ff0000')]

sns.set_theme()
plt.rcParams['font.family'] = ['DejaVu Sans']

fig, ax = plt.subplots(figsize=(3360 / 288, 3360 / 288), dpi=288)
for pts, col in series:
    xs = [p[0] for p in pts]
    ys = [p[1] for p in pts]
    ax.scatter(xs, ys, s=16, c=col, linewidths=0)

ax.set_xlim(-30, 30)
ax.set_ylim(-30, 30)
ax.set_xticks(ticks)
ax.set_yticks(ticks)
ax.set_aspect('equal')

fig.savefig('out.png', dpi=288)
